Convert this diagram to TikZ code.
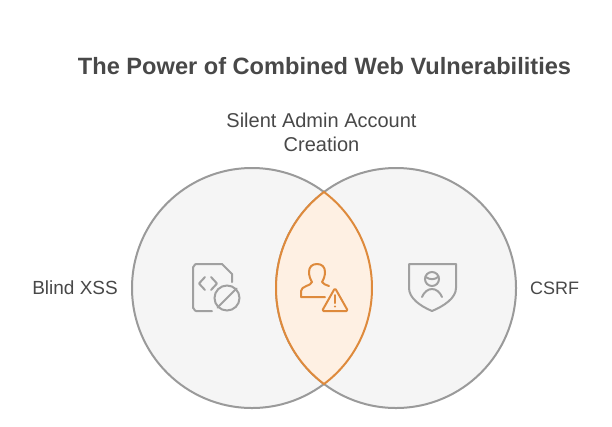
\documentclass[tikz,border=0pt]{standalone}
\usepackage{fontspec}
\setmainfont{Liberation Sans}
\definecolor{ringgrey}{HTML}{9A9A9A}
\definecolor{ringfill}{HTML}{F5F5F5}
\definecolor{lensfill}{HTML}{FEF0E3}
\definecolor{lensline}{HTML}{DE8A3C}
\definecolor{txt}{HTML}{484848}
\definecolor{icongrey}{HTML}{A0A0A0}
\tikzset{
  ring/.style={circle,draw=ringgrey,fill=ringfill,line width=2pt,minimum size=240pt,inner sep=0pt},
  lens/.style={draw=lensline,fill=lensfill,line width=2pt},
  label/.style={text=txt,font=\fontsize{19}{24}\selectfont,inner sep=0pt},
  titlet/.style={text=txt,font=\fontsize{23.6}{28}\selectfont\bfseries,inner sep=0pt},
  greyicon/.style={draw=icongrey,line width=2pt,line cap=round,line join=round},
  orangeicon/.style={draw=lensline,line width=2pt,line cap=round,line join=round}
}
\begin{document}
\begin{tikzpicture}[x=1pt,y=-1pt]
\useasboundingbox (0,0) rectangle (612,426);
\node[titlet] (title) at (324.5,66) {The Power of Combined Web Vulnerabilities};
\node[label,align=center,font=\fontsize{20}{24}\selectfont] (top) at (321.5,132) {Silent Admin Account\\Creation};
\node[label,anchor=east] (lft) at (118,288) {Blind XSS};
\node[label,anchor=west,font=\fontsize{18}{24}\selectfont] (rgt) at (530,288) {CSRF};
\node[ring] (a) at (252,288) {};
\node[ring] (b) at (396,288) {};
% lens
\coordinate (lt) at (324,192);
\coordinate (lb) at (324,384);
\path[lens] (lt) arc[start angle=53.13,end angle=-53.13,radius=120pt]
  arc[start angle=233.13,end angle=126.87,radius=120pt] -- cycle;
% doc icon
\draw[greyicon] (212,311) -- (196,311) to[out=180,in=90] (193,308) -- (193,267) to[out=-90,in=180] (196,264) -- (222,264) -- (232,274) -- (232,282);
\draw[greyicon] (205,277) -- (199,283.5) -- (205,290);
\draw[greyicon] (211,277) -- (217,283.5) -- (211,290);
\node[circle,draw=icongrey,line width=2pt,minimum size=25pt,inner sep=0pt] (nosign) at (227,298) {};
\draw[greyicon] (nosign.north east) -- (nosign.south west);
% person warning icon
\draw[orangeicon] (325,297) -- (301,297) -- (301,291) .. controls (301,286) and (311,286) .. (312,282)
  .. controls (310,279) and (309,275) .. (309,272) .. controls (309,267) and (312,264) .. (317,264)
  .. controls (322,264) and (325,267) .. (325,272) .. controls (325,275) and (324,279) .. (322,282)
  .. controls (323,284) and (326,285) .. (329,286);
\draw[orangeicon,rounded corners=1.5pt] (335,288) -- (348,311) -- (322,311) -- cycle;
\draw[orangeicon] (335,295) -- (335,303);
\fill[lensline] (335,306.5) circle[radius=1.2pt];
% shield icon
\draw[greyicon] (409,264) -- (456,264) -- (456,288) .. controls (456,298) and (444,306) .. (432,311)
  .. controls (420,306) and (409,298) .. (409,288) -- cycle;
\node[circle,draw=icongrey,line width=2pt,minimum size=14pt,inner sep=0pt] (hd) at (432,279) {};
\draw[greyicon] (425.5,277) .. controls (430,280) and (435,280) .. (438.5,276.5);
\draw[greyicon] (422,297) .. controls (424,292) and (428,289) .. (432,289) .. controls (436,289) and (440,292) .. (442,297);
\end{tikzpicture}
\end{document}
